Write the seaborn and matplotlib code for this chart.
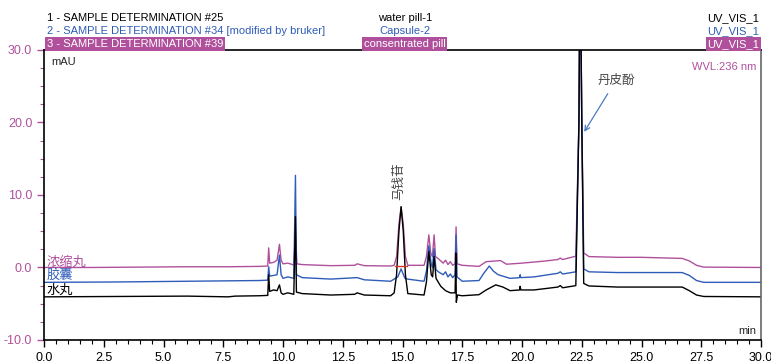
import numpy as np
import pandas as pd
import seaborn as sns
import matplotlib.pyplot as plt
from matplotlib import font_manager
from matplotlib.ticker import MultipleLocator

# traces (min, mAU)
t_pink = [0, 2, 4, 6, 7.7, 9.0, 9.36, 9.40, 9.44, 9.6, 9.75, 9.85, 9.92, 10.0, 10.2, 10.45, 10.52, 10.58, 10.8,
          12, 13.0, 13.1, 13.4, 14.5, 14.65, 14.75, 14.85, 14.94, 15.03, 15.12, 15.22, 15.9, 16.0, 16.1, 16.18,
          16.25, 16.32, 16.38, 16.5, 16.7, 16.8, 16.9, 17.0, 17.1, 17.2, 17.24, 17.28, 17.5, 18.2, 18.5, 19.1,
          19.35, 20, 21, 21.5, 21.6, 21.7, 22.25, 22.38, 22.43, 22.5, 22.58, 22.8, 24, 25, 26.7, 27.0, 27.3,
          27.6, 30]
v_pink = [0.0, 0.0, 0.05, 0.1, 0.1, 0.15, 0.2, 2.7, 0.6, 0.7, 1.0, 3.2, 1.0, 0.5, 0.6, 0.35, 5.0, 0.5, 0.4,
          0.25, 0.3, 0.5, 0.25, 0.2, 0.3, 1.5, 6.0, 8.3, 6.0, 1.5, 0.3, 0.3, 1.5, 4.5, 2.0,
          1.5, 4.5, 1.5, 1.2, 0.6, 1.0, 0.4, 0.8, 0.3, 0.5, 5.6, 0.5, 0.3, 0.15, 0.8, 0.95,
          0.45, 0.6, 0.9, 1.1, 1.3, 1.1, 1.55, 20, 45, 20, 2.0, 1.5, 1.4, 1.4, 1.25, 0.9, 0.3,
          0.05, 0.0]

t_blue = [0, 3, 6, 9.0, 9.36, 9.40, 9.44, 9.75, 9.85, 9.92, 10.0, 10.2, 10.45, 10.52, 10.56, 10.8, 12, 13.1,
          13.4, 14.5, 14.65, 14.8, 14.94, 15.1, 15.2, 15.9, 16.0, 16.1, 16.2, 16.25, 16.32, 16.4, 16.5, 16.7,
          16.8, 16.9, 17.0, 17.1, 17.2, 17.24, 17.28, 17.5, 18.2, 18.4, 18.63, 18.8, 19.0, 19.2, 19.5, 19.9,
          19.92, 19.95, 20.5, 21.5, 21.6, 21.7, 22.25, 22.38, 22.43, 22.5, 22.58, 22.8, 24, 26.7, 27.0, 27.3,
          27.6, 30]
v_blue = [-2.05, -2.0, -1.9, -1.8, -1.75, 0.1, -1.2, -1.0, 1.7, -1.0, -1.5, -1.3, -1.5, 12.7, -1.0, -1.4, -1.6, -1.4,
          -1.7, -1.9, -1.6, -1.3, -0.2, -1.5, -1.6, -1.9, -0.5, 3.0, 0.5, 0.0, 2.6, -0.3, -0.6, -1.0,
          -0.6, -1.3, -0.9, -1.4, -1.0, 4.5, -1.3, -1.9, -1.8, -0.8, 0.2, -0.5, -1.0, -1.2, -1.5, -1.4,
          -1.0, -1.4, -1.3, -0.8, -0.6, -0.9, -0.6, 20, 45, 20, -0.2, -0.6, -0.7, -0.7, -1.1, -1.8,
          -2.05, -2.05]

t_black = [0, 3, 6, 7.7, 8.0, 9.0, 9.36, 9.40, 9.44, 9.6, 9.75, 9.85, 9.92, 10.0, 10.2, 10.45, 10.52, 10.56,
           10.8, 12, 13.0, 13.1, 13.4, 14.5, 14.65, 14.75, 14.85, 14.94, 15.03, 15.12, 15.22, 15.9, 16.0, 16.1,
           16.2, 16.26, 16.32, 16.4, 16.6, 16.8, 17.0, 17.2, 17.23, 17.25, 17.3, 17.5, 18.2, 18.5, 18.9, 19.2,
           19.5, 19.9, 19.92, 19.95, 20.5, 21.5, 21.6, 21.7, 22.25, 22.38, 22.43, 22.5, 22.58, 22.8, 24, 26.7,
           27.0, 27.3, 27.6, 30]
v_black = [-4.05, -4.0, -3.95, -4.05, -3.95, -3.9, -3.85, -1.0, -3.3, -3.1, -3.2, -2.4, -3.5, -3.7, -3.5, -3.7, 7.0, -3.4,
           -3.6, -3.8, -3.7, -3.5, -3.8, -3.9, -3.5, -1.0, 5.0, 8.4, 5.0, -1.0, -3.6, -3.8, -2.0, 2.2,
           -1.0, -1.3, 1.5, -1.5, -2.6, -3.2, -3.5, -3.5, 2.0, -4.8, -3.8, -3.9, -3.75, -3.1, -2.4, -2.7,
           -3.2, -3.1, -2.6, -3.1, -3.1, -2.7, -2.5, -2.8, -2.5, 20, 45, 20, -2.2, -2.55, -2.7, -2.7,
           -3.2, -3.8, -4.0, -4.05]

# integration baseline of the loganin peak
t_base = [14.69, 15.19]
v_base = [0.2, 0.2]

x_ticks = [0.0, 2.5, 5.0, 7.5, 10.0, 12.5, 15.0, 17.5, 20.0, 22.5, 25.0, 27.5, 30.0]
y_ticks = [-10.0, 0.0, 10.0, 20.0, 30.0]

PINK = '#b0509c'
BLUE = '#2f5cb8'
BLACK = '#000000'
FS = 8  # narrow-looking header text

sns.set_style('ticks')
installed = {f.name for f in font_manager.fontManager.ttflist}
latin = 'Liberation Sans Narrow' if 'Liberation Sans Narrow' in installed else 'Liberation Sans'
plt.rcParams['font.family'] = [latin, 'Noto Sans CJK SC', 'DejaVu Sans']
cjk = ['Noto Sans CJK SC', 'DejaVu Sans']

fig = plt.figure(figsize=(7.71, 3.63), dpi=100)
ax = fig.add_axes([0.0571, 0.0634, 0.930, 0.799])

traces = [(t_pink, v_pink, PINK), (t_blue, v_blue, BLUE), (t_black, v_black, BLACK)]
for t, v, c in traces:
    df = pd.DataFrame({'t': t, 'v': v})
    sns.lineplot(data=df, x='t', y='v', color=c, lw=1.0, estimator=None, ax=ax)
sns.lineplot(x=t_base, y=v_base, color='#e03020', lw=1.0, estimator=None, ax=ax)

ax.set_xlim(0, 30)
ax.set_ylim(-10, 30)
ax.set_xticks(x_ticks)
ax.set_yticks(y_ticks)
ax.set_xticklabels([f'{x:.1f}' for x in x_ticks])
ax.set_yticklabels([f'{y:.1f}' for y in y_ticks])
ax.xaxis.set_minor_locator(MultipleLocator(0.5))
ax.yaxis.set_minor_locator(MultipleLocator(2.5))
ax.tick_params(which='major', length=5, width=1, labelsize=9, direction='out')
ax.tick_params(which='minor', length=3, width=0.8, direction='out')
ax.tick_params(axis='y', which='both', colors=PINK, labelcolor=PINK)
ax.tick_params(axis='x', which='both', colors=BLACK)
ax.set_xlabel('')
ax.set_ylabel('')
for s in ['left', 'bottom', 'top']:
    ax.spines[s].set_color('black')
    ax.spines[s].set_linewidth(1.2)
ax.spines['right'].set_color('#666666')
ax.spines['right'].set_linewidth(1.2)

ax.text(0.01, 0.96, 'mAU', transform=ax.transAxes, fontsize=FS, va='center')
ax.text(0.993, 0.94, 'WVL:236 nm', transform=ax.transAxes, fontsize=FS, color=PINK, ha='right', va='center')
ax.text(0.993, 0.03, 'min', transform=ax.transAxes, fontsize=FS, ha='right', va='center')

# sample names on the traces
ax.text(0.1, 0.76, '浓缩丸', color=PINK, fontsize=9.5, family=cjk, va='center')
ax.text(0.1, -1.03, '胶囊', color=BLUE, fontsize=9.5, family=cjk, va='center')
ax.text(0.1, -3.2, '水丸', color=BLACK, fontsize=9.5, family=cjk, va='center')

ax.text(14.85, 11.9, '马钱苷', rotation=90, color='#444444', fontsize=9, family=cjk, ha='center', va='center')
ax.annotate('丹皮酚', xy=(22.6, 18.7), xytext=(23.93, 25.8), color='#444444', fontsize=9, family=cjk,
            ha='center', va='center',
            arrowprops=dict(arrowstyle='->', color='#4a7cc0', lw=0.9, shrinkA=3, shrinkB=0))

# header lines
box = dict(boxstyle='square,pad=0.15', fc=PINK, ec='none')
fig.text(0.061, 0.950, '1 - SAMPLE DETERMINATION #25', fontsize=FS, color=BLACK, va='center')
fig.text(0.061, 0.915, '2 - SAMPLE DETERMINATION #34 [modified by bruker]', fontsize=FS, color=BLUE, va='center')
fig.text(0.061, 0.879, '3 - SAMPLE DETERMINATION #39', fontsize=FS, color='white', va='center', bbox=box)
fig.text(0.525, 0.950, 'water pill-1', fontsize=FS, color=BLACK, ha='center', va='center')
fig.text(0.525, 0.915, 'Capsule-2', fontsize=FS, color=BLUE, ha='center', va='center')
fig.text(0.525, 0.879, 'consentrated pill', fontsize=FS, color='white', ha='center', va='center', bbox=box)
fig.text(0.985, 0.950, 'UV_VIS_1', fontsize=FS, color=BLACK, ha='right', va='center')
fig.text(0.985, 0.915, 'UV_VIS_1', fontsize=FS, color=BLUE, ha='right', va='center')
fig.text(0.985, 0.879, 'UV_VIS_1', fontsize=FS, color='white', ha='right', va='center', bbox=box)

fig.savefig('out.png', dpi=100)
